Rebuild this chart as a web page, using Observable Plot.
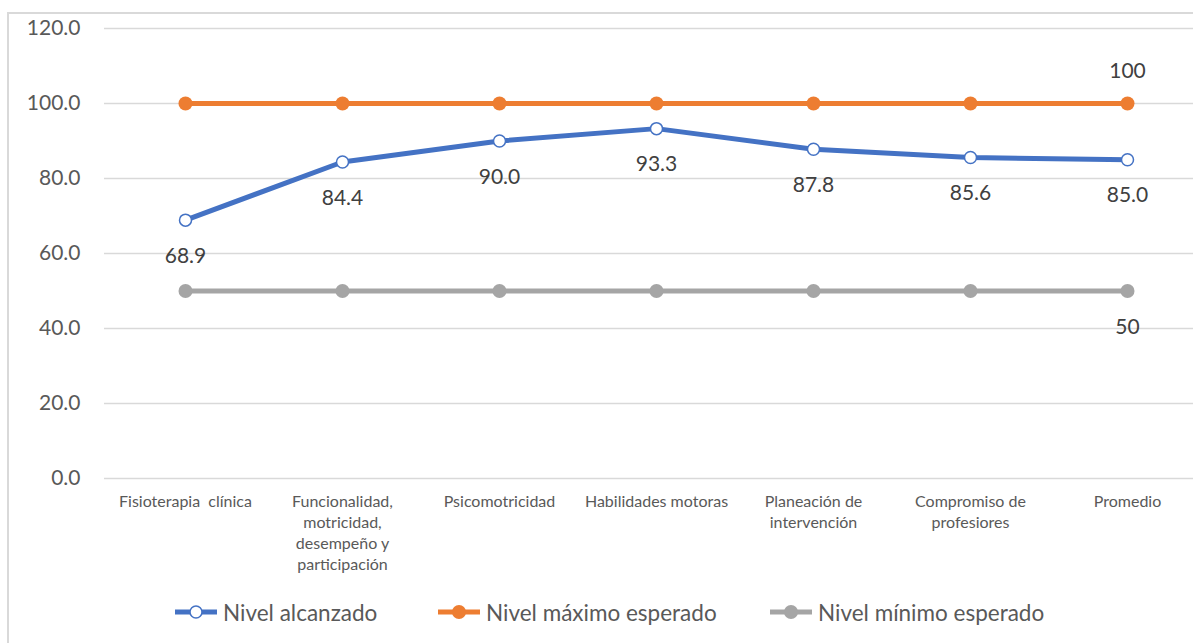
<!DOCTYPE html>
<html>
<head>
<meta charset="utf-8">
<script src="https://cdn.jsdelivr.net/npm/d3@7"></script>
<script src="https://cdn.jsdelivr.net/npm/@observablehq/plot@0.6"></script>
<style>
  html, body { margin: 0; padding: 0; background: #fff; }
  body { width: 1193px; height: 643px; position: relative; overflow: hidden; font-family: Lato, "Liberation Sans", sans-serif; }
  #frame { position: absolute; left: 7px; top: 12px; right: -5px; bottom: -5px; border-left: 2px solid #d9d9d9; border-top: 2px solid #d9d9d9; }
  #chart { position: absolute; left: 0; top: 0; }
  #legend { position: absolute; top: 597px; left: 0; width: 1193px; height: 30px; font-size: 22.5px; color: #595959; }
  .item { position: absolute; top: 0; display: flex; align-items: center; height: 30px; }
  .item svg { margin-right: 6px; }
</style>
</head>
<body>
<div id="frame"></div>
<div id="chart"></div>
<div id="legend"></div>
<script>
const categories = [
  "Fisioterapia clínica",
  "Funcionalidad, motricidad, desempeño y participación",
  "Psicomotricidad",
  "Habilidades motoras",
  "Planeación de intervención",
  "Compromiso de profesiores",
  "Promedio"
];
const categoryLabels = [
  "Fisioterapia  clínica",
  "Funcionalidad,\nmotricidad,\ndesempeño y\nparticipación",
  "Psicomotricidad",
  "Habilidades motoras",
  "Planeación de\nintervención",
  "Compromiso de\nprofesiores",
  "Promedio"
];
const nivelAlcanzado = [68.9, 84.4, 90.0, 93.3, 87.8, 85.6, 85.0];
const nivelMaximo = [100, 100, 100, 100, 100, 100, 100];
const nivelMinimo = [50, 50, 50, 50, 50, 50, 50];
const yTicks = [0, 20, 40, 60, 80, 100, 120];
const seriesNames = ["Nivel alcanzado", "Nivel máximo esperado", "Nivel mínimo esperado"];
const colors = ["#4472C4", "#ED7D31", "#A5A5A5"];

const blue = categories.map((c, i) => ({cat: c, v: nivelAlcanzado[i]}));
const orange = categories.map((c, i) => ({cat: c, v: nivelMaximo[i]}));
const gray = categories.map((c, i) => ({cat: c, v: nivelMinimo[i]}));
const lastOrange = orange.slice(-1);
const lastGray = gray.slice(-1);
const labelOf = new Map(categories.map((c, i) => [c, categoryLabels[i]]));

const chart = Plot.plot({
  width: 1193,
  height: 590,
  marginLeft: 104,
  marginRight: 0,
  marginTop: 28,
  marginBottom: 112,
  style: {fontFamily: "Lato, 'Liberation Sans', sans-serif", background: "transparent"},
  x: {type: "point", domain: categories, range: [183, 1129], padding: 0},
  y: {domain: [0, 120]},
  marks: [
    Plot.ruleY(yTicks, {stroke: "#d9d9d9", strokeWidth: 1.5}),
    Plot.axisY({ticks: yTicks, tickFormat: d => d.toFixed(1), tickSize: 0, tickPadding: 24, fontSize: 21, fill: "#595959", label: null}),
    Plot.axisX({tickSize: 0, tickPadding: 13, tickFormat: d => labelOf.get(d), fontSize: 16, lineHeight: 1.33, fill: "#595959", label: null, lineAnchor: "top"}),
    Plot.line(gray, {x: "cat", y: "v", stroke: colors[2], strokeWidth: 5}),
    Plot.dot(gray, {x: "cat", y: "v", r: 7, fill: colors[2]}),
    Plot.line(orange, {x: "cat", y: "v", stroke: colors[1], strokeWidth: 5}),
    Plot.dot(orange, {x: "cat", y: "v", r: 7, fill: colors[1]}),
    Plot.line(blue, {x: "cat", y: "v", stroke: colors[0], strokeWidth: 5}),
    Plot.dot(blue, {x: "cat", y: "v", r: 6, fill: "white", stroke: colors[0], strokeWidth: 1.5}),
    Plot.text(blue, {x: "cat", y: "v", text: d => d.v.toFixed(1), dy: 36, fontSize: 21, fill: "#404040"}),
    Plot.text(lastOrange, {x: "cat", y: "v", text: d => String(d.v), dy: -32, fontSize: 21, fill: "#404040"}),
    Plot.text(lastGray, {x: "cat", y: "v", text: d => String(d.v), dy: 36, fontSize: 21, fill: "#404040"})
  ]
});
document.getElementById("chart").appendChild(chart);

// Legend
const legendLefts = [175, 438, 770];
const legend = document.getElementById("legend");
seriesNames.forEach((name, i) => {
  const item = document.createElement("div");
  item.className = "item";
  item.style.left = legendLefts[i] + "px";
  const filled = i > 0;
  item.innerHTML = `<svg width="42" height="20"><line x1="0" y1="10" x2="42" y2="10" stroke="${colors[i]}" stroke-width="5"/>` +
    (filled ? `<circle cx="21" cy="10" r="7" fill="${colors[i]}"/>`
            : `<circle cx="21" cy="10" r="6" fill="white" stroke="${colors[i]}" stroke-width="1.5"/>`) +
    `</svg><span>${name}</span>`;
  legend.appendChild(item);
});
</script>
</body>
</html>
